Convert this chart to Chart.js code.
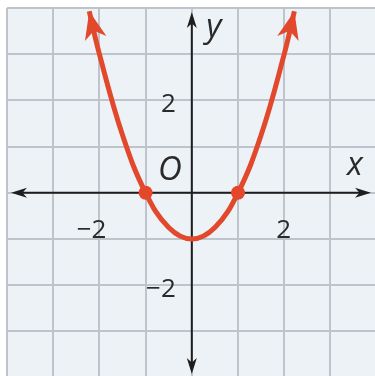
<!DOCTYPE html>
<html>
<head>
<meta charset="utf-8">
<script src="https://cdn.jsdelivr.net/npm/chart.js@4.4.1/dist/chart.umd.min.js"></script>
<style>
    html, body { margin: 0; padding: 0; background: #ffffff; }
    #wrap { width: 375px; height: 376px; position: relative; }
</style>
</head>
<body>
<div id="wrap"><canvas id="graph"></canvas></div>
<script>
// parabola y = x^2 - 1, read at a handful of x values
const curveX = [-2.22, -2, -1.5, -1, -0.5, 0, 0.5, 1, 1.5, 2, 2.22];
const curveY = [3.93, 3, 1.25, 0, -0.75, -1, -0.75, 0, 1.25, 3, 3.93];

// x-intercepts marked with dots
const rootX = [-1, 1];
const rootY = [0, 0];

const gridTicks = [-4, -3, -2, -1, 0, 1, 2, 3, 4];
const xTickLabels = [{ value: -2, text: '\u22122' }, { value: 2, text: '2' }];
const yTickLabels = [{ value: 2, text: '2' }, { value: -2, text: '\u22122' }];

const curveColor = '#e2482b';
const axisColor = '#1e1e1e';
const textColor = '#2a2a2a';

function arrowHead(ctx, tipX, tipY, angle, len, half, color) {
    ctx.save();
    ctx.translate(tipX, tipY);
    ctx.rotate(angle);
    ctx.fillStyle = color;
    ctx.beginPath();
    ctx.moveTo(0, 0);
    ctx.lineTo(-len, -half);
    ctx.lineTo(-len * 0.72, 0);
    ctx.lineTo(-len, half);
    ctx.closePath();
    ctx.fill();
    ctx.restore();
}

const backgroundPlugin = {
    id: 'plotBackground',
    beforeDraw(chart) {
        const { ctx, chartArea } = chart;
        ctx.save();
        ctx.fillStyle = '#edf2f7';
        ctx.fillRect(chartArea.left, chartArea.top, chartArea.right - chartArea.left, chartArea.bottom - chartArea.top);
        ctx.restore();
    }
};

const axesPlugin = {
    id: 'axesArrows',
    beforeDatasetsDraw(chart) {
        const { ctx, chartArea, scales } = chart;
        const x0 = scales.x.getPixelForValue(0);
        const y0 = scales.y.getPixelForValue(0);
        const left = chartArea.left + 4;
        const right = chartArea.right - 4;
        const top = chartArea.top + 4;
        const bottom = chartArea.bottom - 2;

        ctx.save();
        ctx.strokeStyle = axisColor;
        ctx.lineWidth = 2;
        ctx.beginPath();
        ctx.moveTo(left + 6, y0);
        ctx.lineTo(right - 6, y0);
        ctx.moveTo(x0, top + 6);
        ctx.lineTo(x0, bottom - 6);
        ctx.stroke();
        arrowHead(ctx, left, y0, Math.PI, 16, 5, axisColor);
        arrowHead(ctx, right, y0, 0, 16, 5, axisColor);
        arrowHead(ctx, x0, top, -Math.PI / 2, 16, 5, axisColor);
        arrowHead(ctx, x0, bottom, Math.PI / 2, 16, 5, axisColor);

        ctx.fillStyle = textColor;
        ctx.font = '26px "Open Sans", sans-serif';
        ctx.textBaseline = 'middle';
        ctx.textAlign = 'right';
        xTickLabels.forEach(t => {
            ctx.fillText(t.text, scales.x.getPixelForValue(t.value) + 7, y0 + 38);
        });
        yTickLabels.forEach(t => {
            ctx.fillText(t.text, x0 - 16, scales.y.getPixelForValue(t.value) + 4);
        });

        ctx.font = 'italic 33px "Open Sans", sans-serif';
        ctx.textAlign = 'center';
        ctx.fillText('O', x0 - 22, y0 - 22);
        ctx.fillText('x', chartArea.right - 20, y0 - 27);
        ctx.fillText('y', x0 + 22, chartArea.top + 20);
        ctx.restore();
    },
    afterDatasetsDraw(chart) {
        // arrowheads on both ends of the parabola
        const pts = chart.getDatasetMeta(0).data;
        const ends = [[pts[0], pts[1]], [pts[pts.length - 1], pts[pts.length - 2]]];
        ends.forEach(([tip, prev]) => {
            const angle = Math.atan2(tip.y - prev.y, tip.x - prev.x);
            arrowHead(chart.ctx, tip.x, tip.y, angle, 28, 11, curveColor);
        });
    }
};

const ctx = document.getElementById('graph').getContext('2d');
const graph = new Chart(ctx, {
    type: 'scatter',
    data: {
        datasets: [{
            data: curveX.map((x, i) => ({ x: x, y: curveY[i] })),
            showLine: true,
            borderColor: curveColor,
            borderWidth: 5,
            tension: 0.4,
            pointRadius: 0,
            clip: false
        }, {
            data: rootX.map((x, i) => ({ x: x, y: rootY[i] })),
            showLine: false,
            pointRadius: 7,
            pointBackgroundColor: '#e8452a',
            pointBorderWidth: 0
        }]
    },
    options: {
        responsive: true,
        maintainAspectRatio: false,
        animation: false,
        layout: { autoPadding: false, padding: { left: 7, top: 8, right: 0, bottom: 0 } },
        plugins: {
            legend: { display: false },
            tooltip: { enabled: false }
        },
        scales: {
            x: {
                type: 'linear',
                min: -4,
                max: 3.965,
                afterBuildTicks: scale => { scale.ticks = gridTicks.map(v => ({ value: v })); },
                ticks: { display: false },
                grid: { color: '#bfc4cc', lineWidth: 2, drawTicks: false },
                border: { display: false }
            },
            y: {
                type: 'linear',
                min: -3.965,
                max: 4,
                afterBuildTicks: scale => { scale.ticks = gridTicks.map(v => ({ value: v })); },
                ticks: { display: false },
                grid: { color: '#bfc4cc', lineWidth: 2, drawTicks: false },
                border: { display: false }
            }
        }
    },
    plugins: [backgroundPlugin, axesPlugin]
});
</script>
</body>
</html>
